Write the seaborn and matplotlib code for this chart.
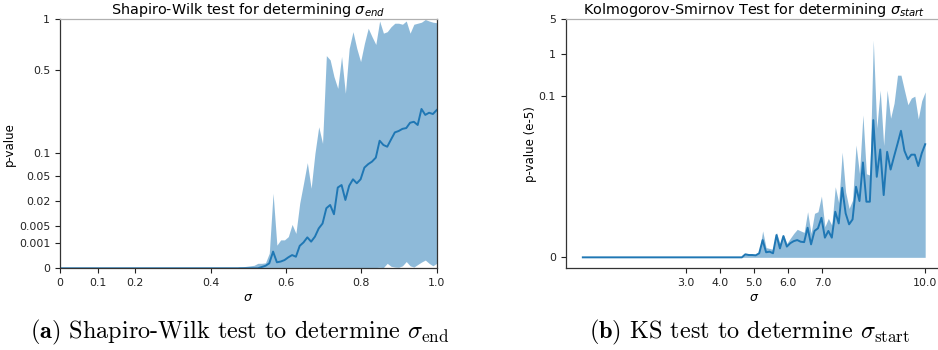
import numpy as np
import matplotlib
matplotlib.use("Agg")
import matplotlib.pyplot as plt
import seaborn as sns

# ---------------- data ----------------
# (a) Shapiro-Wilk, sigma grid 0..1 (100 samples)
sigma_end = np.linspace(0, 1, 100)
sw_mean = [0.0] * 53 + [
    1.3e-7, 1e-6, 8e-6, 3.0e-4, 1.4e-5, 2.0e-5, 3.6e-5, 8.5e-5, 1.5e-4, 1.0e-4,
    7.3e-4, 1.12e-3, 1.91e-3, 1.22e-3, 2.05e-3, 4.1e-3, 5.8e-3, 1.4e-2, 1.64e-2,
    1.02e-2, 3.40e-2, 3.73e-2, 2.06e-2, 3.63e-2, 4.55e-2, 3.97e-2, 4.55e-2,
    6.59e-2, 7.30e-2, 7.84e-2, 8.75e-2, 0.134, 0.121, 0.116, 0.138, 0.162, 0.167,
    0.175, 0.178, 0.199, 0.203, 0.190, 0.261, 0.233, 0.243, 0.237, 0.256]
sw_upper = [0.0] * 47 + [
    1.3e-7, 2.2e-7, 5.1e-7, 1e-6, 1.7e-6, 8e-6, 8e-6, 1.06e-5, 2.2e-4, 2.73e-2,
    8.0e-4, 1.48e-3, 1.48e-3, 2.05e-3, 5.45e-3, 2.74e-3, 1.78e-2, 3.97e-2, 7.62e-2,
    3.31e-2, 9.80e-2, 0.183, 0.126, 0.621, 0.584, 0.455, 0.376, 0.614, 0.346,
    0.686, 0.855, 0.686, 0.570, 0.734, 0.893, 0.802, 0.724, 0.976, 0.839, 0.855,
    0.910, 0.950, 0.950, 0.938, 0.976, 0.839, 0.938, 0.950, 0.962, 0.994, 0.976,
    0.962, 0.956]
sw_lower = [0.0] * 80 + [
    2.7e-8, 2.7e-8, 2.7e-8, 2.7e-8, 6.4e-8, 2.7e-8, 8e-6, 5.1e-7, 1.25e-7, 6.4e-8,
    1e-6, 2.0e-5, 1e-6, 1.25e-7, 3.4e-6, 1.56e-5, 3.6e-5, 8e-6, 1e-6, 8e-6]

# (b) Kolmogorov-Smirnov, sigma grid 0..10 (100 samples), p-value in e-5
sigma_start = np.linspace(0, 10, 100)
ks_mean = [0.0] * 47 + [
    5.8e-19, 4.0e-20, 4.0e-20, 1.0e-20, 1.0e-17, 2.0e-11, 9.5e-17, 3.0e-16,
    1.0e-17, 2.6e-10, 2.7e-14, 1.6e-10, 1.75e-13, 2.8e-12, 1.07e-11, 2.0e-11,
    7.3e-12, 5.6e-12, 4.4e-9, 1.15e-12, 1.4e-9, 3.6e-9, 7.9e-8, 7.4e-11, 1.4e-9,
    7.4e-11, 3.3e-7, 1.7e-8, 2.25e-5, 2.3e-7, 1.3e-8, 5.2e-8, 2.6e-5, 2.7e-6,
    5.0e-4, 2.4e-6, 2.4e-6, 2.0e-2, 9.7e-5, 1.8e-3, 7.4e-6, 1.45e-3, 2.3e-4,
    9.2e-4, 3.0e-3, 8.9e-3, 1.6e-3, 7.0e-4, 1.1e-3, 1.1e-3, 3.4e-4, 1.25e-3,
    2.9e-3]
ks_upper = [0.0] * 47 + [
    1.1e-18, 6e-20, 6e-20, 2.6e-20, 4.1e-17, 1.4e-9, 6.5e-14, 2.7e-14, 8.1e-15,
    7.9e-10, 2.4e-12, 3.4e-10, 2.4e-12, 5.4e-11, 5.2e-10, 2.5e-9, 1.4e-9, 7.9e-10,
    3.3e-7, 5.2e-10, 2.3e-7, 3.3e-7, 6.3e-6, 6.2e-9, 6.8e-8, 1.0e-8, 2.6e-5,
    2.0e-6, 1.4e-3, 1.2e-5, 6.6e-7, 3.2e-6, 2.7e-3, 1.5e-4, 2.9e-2, 1.4e-4,
    1.2e-4, 1.97, 1.1e-2, 0.144, 2.6e-3, 0.144, 2.3e-2, 6.4e-2, 0.34, 0.34,
    0.144, 5.8e-2, 8.9e-2, 0.10, 2.2e-2, 7.5e-2, 0.13]
ks_lower = [0.0] * 100

sw_yticks = [0, 0.001, 0.005, 0.02, 0.05, 0.1, 0.5, 1]
sw_yticklabels = ["0", "0.001", "0.005", "0.02", "0.05", "0.1", "0.5", "1"]
sw_xticks = [0, 0.1, 0.2, 0.4, 0.6, 0.8, 1.0]
sw_xticklabels = ["0", "0.1", "0.2", "0.4", "0.6", "0.8", "1.0"]
ks_yticks = [0, 0.1, 1, 5]
ks_yticklabels = ["0", "0.1", "1", "5"]
ks_xticks = [3, 4, 5, 6, 7, 10]
ks_xticklabels = ["3.0", "4.0", "5.0", "6.0", "7.0", "10.0"]

# ---------------- style ----------------
plt.rcParams["mathtext.fontset"] = "dejavusans"
blue = "#1f77b4"
TICK = 7.9
fig = plt.figure(figsize=(9.38, 3.5), dpi=100)

def cbrt_f(v):
    return np.cbrt(v)
def cbrt_i(t):
    return np.asarray(t) ** 3
def p01_f(v):
    v = np.asarray(v, dtype=float)
    return np.sign(v) * np.abs(v) ** 0.1
def p01_i(t):
    t = np.asarray(t, dtype=float)
    return np.sign(t) * np.abs(t) ** 10

def style(ax):
    for s in ax.spines.values():
        s.set_color("#333333")
        s.set_linewidth(0.9)
    ax.spines["top"].set_color("#b0b0b0")
    ax.tick_params(labelsize=TICK, length=3.5, width=0.8, colors="#222222")

# ---- left ----
ax1 = fig.add_axes([60 / 938, 1 - 268.3 / 350, 376.7 / 938, 249.3 / 350])
ax1.set_yscale("function", functions=(cbrt_f, cbrt_i))
ax1.fill_between(sigma_end, sw_lower, sw_upper, color=blue, alpha=0.5, linewidth=0)
sns.lineplot(x=sigma_end, y=sw_mean, ax=ax1, color=blue, linewidth=1.4)
ax1.set_xlim(0, 1)
ax1.set_ylim(0, 1)
ax1.set_yticks(sw_yticks)
ax1.set_yticklabels(sw_yticklabels)
ax1.set_xticks(sw_xticks)
ax1.set_xticklabels(sw_xticklabels)
ax1.set_xlabel(r"$\sigma$", fontsize=9, labelpad=2)
ax1.set_ylabel("p-value", fontsize=8.5, labelpad=2)
ax1.set_title(r"Shapiro-Wilk test for determining $\sigma_{end}$", fontsize=10.4, pad=2)
style(ax1)

# ---- right ----
ax2 = fig.add_axes([565.7 / 938, 1 - 268.3 / 350, 376.6 / 938, 249.3 / 350])
ax2.set_yscale("function", functions=(p01_f, p01_i))
ax2.fill_between(sigma_start, ks_lower, ks_upper, color=blue, alpha=0.5, linewidth=0)
sns.lineplot(x=sigma_start, y=ks_mean, ax=ax2, color=blue, linewidth=1.4)
ax2.set_xlim(-0.5, 10.5)
ax2.set_ylim(float(p01_i(-0.054)), 5)
ax2.set_yticks(ks_yticks)
ax2.set_yticklabels(ks_yticklabels)
ax2.set_xticks(ks_xticks)
ax2.set_xticklabels(ks_xticklabels)
ax2.set_xlabel(r"$\sigma$", fontsize=9, labelpad=2)
ax2.set_ylabel("p-value (e-5)", fontsize=8.5, labelpad=1)
ax2.set_title(r"Kolmogorov-Smirnov Test for determining $\sigma_{start}$", fontsize=10.4, pad=2)
style(ax2)

# ---- captions ----
fig.text(240 / 938, 1 - 332 / 350,
         r"$\mathbf{(a)}$ Shapiro-Wilk test to determine $\sigma_{\mathrm{end}}$",
         family="cmr10", fontsize=17.5, ha="center", va="center", math_fontfamily="cm")
fig.text(750 / 938, 1 - 332 / 350,
         r"$\mathbf{(b)}$ KS test to determine $\sigma_{\mathrm{start}}$",
         family="cmr10", fontsize=17.5, ha="center", va="center", math_fontfamily="cm")

fig.savefig("out.png", dpi=100)
